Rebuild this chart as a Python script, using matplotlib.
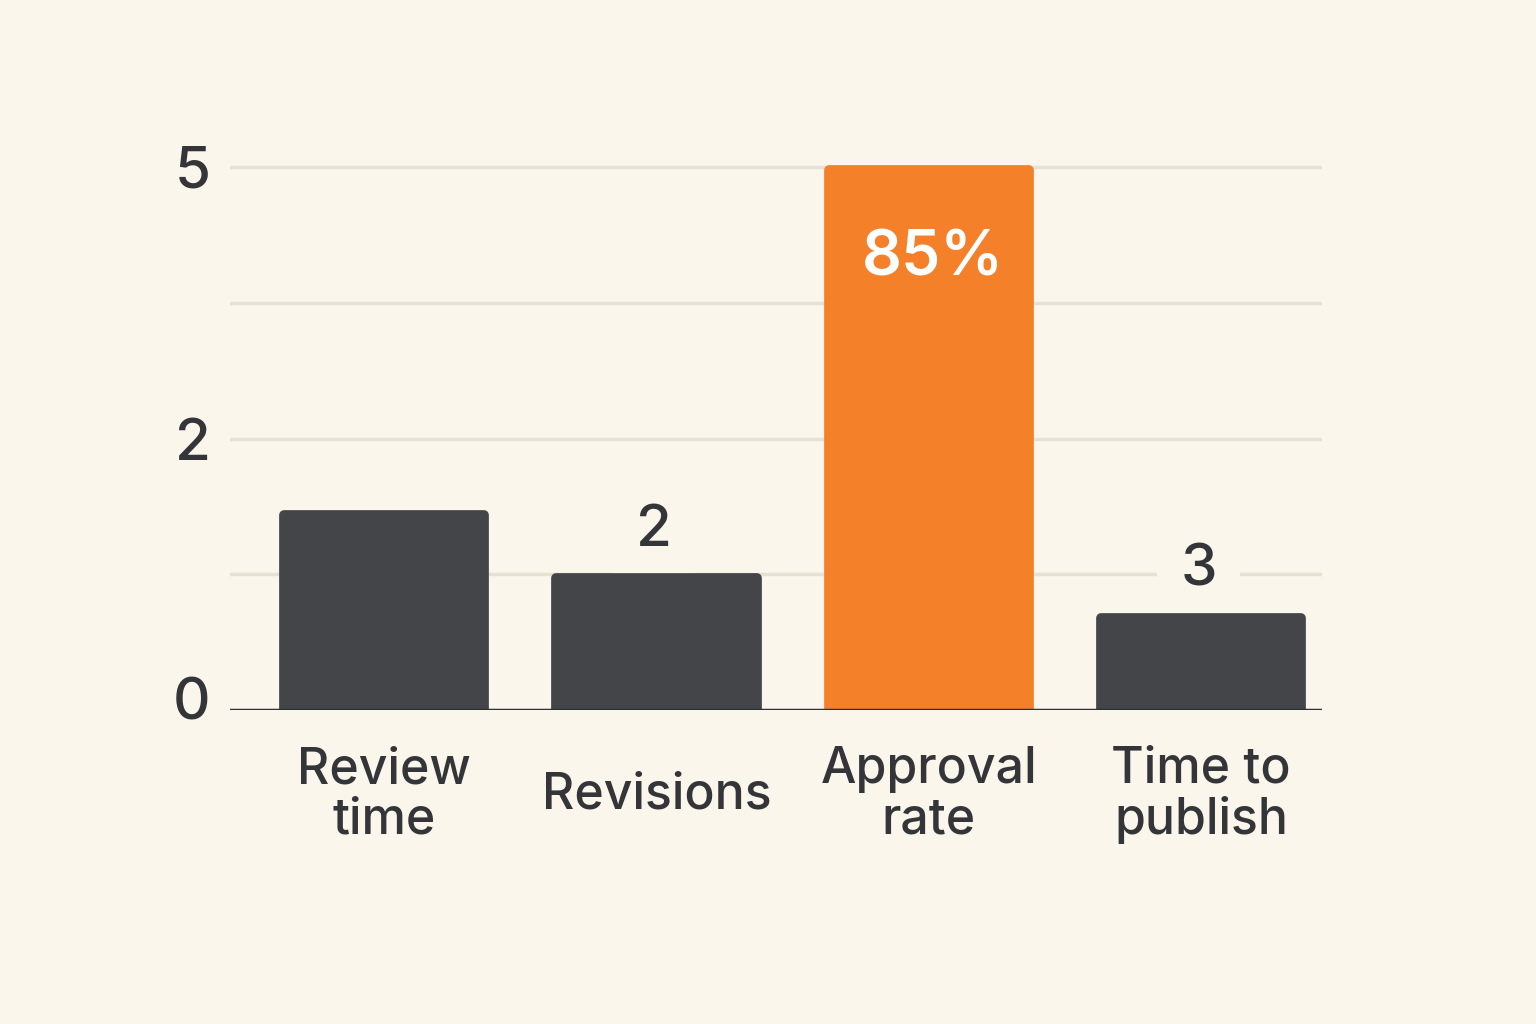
import matplotlib
matplotlib.use("Agg")
import matplotlib.pyplot as plt
import matplotlib.transforms as mtransforms

categories = ["Review\ntime", "Revisions", "Approval\nrate", "Time to\npublish"]
values = [1.44, 0.975, 3.98, 0.68]
bar_labels = ["", "2", "85%", "3"]
ytick_pos = [0, 2, 4]
ytick_labels = ["0", "2", "5"]

bg = "#FAF6EC"
dark = "#434548"
orange = "#F5802A"
text_col = "#333538"
grid_col = "#E6E1D5"

plt.rcParams["font.family"] = ["Inter", "DejaVu Sans"]

fig = plt.figure(figsize=(15.36, 10.24), dpi=100, facecolor=bg)
# axes placed in pixels: x 230..1322, baseline at y=710, one grid step = 135.75 px
W, H = 1536, 1024
step = 135.75
ytop = 4.6
ax = fig.add_axes([230 / W, (H - 710) / H, (1322 - 230) / W, ytop * step / H])
ax.set_facecolor(bg)

colors = [orange if l.endswith("%") else dark for l in bar_labels]
x = list(range(len(categories)))
bars = ax.bar(x, values, width=0.735, color=colors, edgecolor=colors,
              linewidth=7, joinstyle="round", zorder=2)

ax.set_xlim(-0.565, 3.443)
ax.set_ylim(0, ytop)

for y in [1, 2, 3, 4]:
    ax.axhline(y, color=grid_col, lw=2.5, zorder=0)
ax.axhline(0, color="#2E3033", lw=2.5, zorder=4)

for sp in ax.spines.values():
    sp.set_visible(False)

ax.set_yticks(ytick_pos)
ax.set_yticklabels(ytick_labels)
ax.set_xticks(x)
ax.set_xticklabels(categories, linespacing=1.07, fontweight="medium")
ax.tick_params(axis="y", length=0, pad=14, labelsize=42, labelcolor=text_col)
ax.tick_params(axis="x", length=0, pad=61, labelsize=36, labelcolor=text_col)
for lab in ax.get_xticklabels():
    lab.set_va("center")
for lab in ax.get_yticklabels():
    lab.set_fontweight("medium")
# the "0" label sits a bit above the baseline in the reference
ylabs = ax.get_yticklabels()
ylabs[0].set_transform(ylabs[0].get_transform() +
                       mtransforms.ScaledTranslation(0, 12 / 100, fig.dpi_scale_trans))

for xi, v, lab in zip(x, values, bar_labels):
    if not lab:
        continue
    if lab.endswith("%"):
        ax.annotate(lab, xy=(xi, v), xytext=(3, -60 * 0.72), textcoords="offset points",
                    ha="center", va="top", fontsize=45, fontweight="semibold",
                    color="white", zorder=5)
    else:
        ax.annotate(lab, xy=(xi, v), xytext=(-2, 32 * 0.72), textcoords="offset points",
                    ha="center", va="baseline", fontsize=42, fontweight="medium",
                    color=text_col, zorder=1,
                    bbox=dict(boxstyle="square,pad=0.4", fc=bg, ec="none"))

fig.savefig("out.png", dpi=100, facecolor=bg)
